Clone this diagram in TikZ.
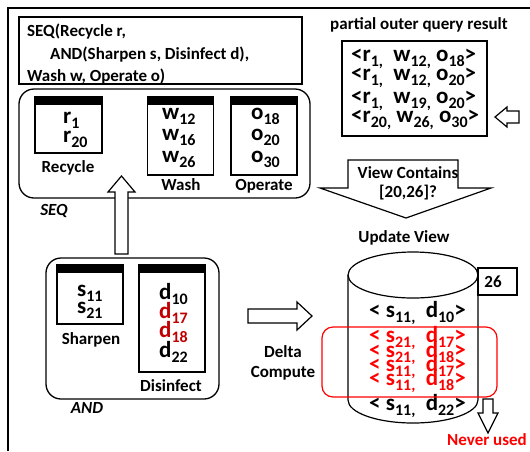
\documentclass[tikz,border=0pt]{standalone}
\usepackage{fontspec}
\setmainfont{Carlito}
\newcommand\lo[1]{\raisebox{-5.5pt}{\fontsize{16}{16}\selectfont #1}}
\definecolor{darkred}{HTML}{C00000}
\definecolor{brightred}{HTML}{FF0000}
\tikzset{
  txt/.style={inner sep=0pt, font=\fontsize{17}{20}\selectfont\bfseries},
  big/.style={inner sep=0pt, font=\fontsize{23}{26}\selectfont\bfseries},
  boxline/.style={draw=black, line width=1.3pt},
  blockarrow/.style={draw=black, line width=1.2pt, fill=white, line join=miter},
  relation/.style={boxline, fill=white,
    path picture={\fill[black] (path picture bounding box.north west) rectangle ([yshift=-8pt]path picture bounding box.north east);}},
}
\begin{document}
\begin{tikzpicture}[x=1pt, y=-1pt]
\useasboundingbox (0,0) rectangle (530,451);

% outer frame (top and left edges)
\draw[line width=1.2pt] (8,451) -- (8,8) -- (530,8);

% query text box
\node[boxline, minimum width=283pt, minimum height=67pt] (query) at (160.5,50.5) {};
\node[txt, anchor=base west] (q1) at (27,36) {SEQ(Recycle r,};
\node[txt, anchor=base west] (q2) at (50,59) {AND(Sharpen s, Disinfect d),};
\node[txt, anchor=base west] (q3) at (27,81) {Wash w, Operate o)};

% SEQ operator box
\node[boxline, rounded corners=15pt, minimum width=291pt, minimum height=109pt] (seq) at (164.5,143.5) {};
\node[txt, font=\fontsize{17}{20}\selectfont\bfseries\itshape, anchor=base] (seqlab) at (54,215) {SEQ};

% Recycle relation
\node[relation, minimum width=67pt, minimum height=56pt] (recycle) at (68.5,125) {};
\node[big, anchor=base west] (r1) at (63,123) {r\lo{1}};
\node[big, anchor=base west] (r20) at (63,142) {r\lo{20}};
\node[txt, anchor=base] (recyclelab) at (68,172) {Recycle};

% Wash relation
\node[relation, minimum width=66pt, minimum height=78pt] (wash) at (180.5,136) {};
\node[big, anchor=base west] (w12) at (162,119) {w\lo{12}};
\node[big, anchor=base west] (w16) at (162,140) {w\lo{16}};
\node[big, anchor=base west] (w26) at (162,162) {w\lo{26}};
\node[txt, anchor=base] (washlab) at (181,190) {Wash};

% Operate relation
\node[relation, minimum width=66pt, minimum height=78pt] (operate) at (264,136) {};
\node[big, anchor=base west] (o18) at (251,119) {o\lo{18}};
\node[big, anchor=base west] (o20) at (251,140) {o\lo{20}};
\node[big, anchor=base west] (o30) at (251,162) {o\lo{30}};
\node[txt, anchor=base] (operatelab) at (264,190) {Operate};

% AND operator box
\node[boxline, rounded corners=15pt, minimum width=173pt, minimum height=141pt] (and) at (132.5,328.5) {};
\node[txt, font=\fontsize{17}{20}\selectfont\bfseries\itshape, anchor=base] (andlab) at (87,413) {AND};

% Sharpen relation
\node[relation, minimum width=66pt, minimum height=59pt] (sharpen) at (90,294.5) {};
\node[big, anchor=base west] (s11) at (77,296) {s\lo{11}};
\node[big, anchor=base west] (s21) at (77,313) {s\lo{21}};
\node[txt, anchor=base] (sharpenlab) at (91,344) {Sharpen};

% Disinfect relation
\node[relation, minimum width=66pt, minimum height=107pt] (disinfect) at (172,318.5) {};
\node[big, anchor=base west] (d10) at (159,299) {d\lo{10}};
\node[big, anchor=base west, text=darkred] (d17) at (159,318) {d\lo{17}};
\node[big, anchor=base west, text=darkred] (d18) at (159,337) {d\lo{18}};
\node[big, anchor=base west] (d22) at (159,357) {d\lo{22}};
\node[txt, anchor=base] (disinfectlab) at (171,391) {Disinfect};

% AND result flows up into SEQ
\draw[blockarrow] (115,254) -- (115,192) -- (108,192) -- (121.5,176) -- (135,192) -- (128,192) -- (128,254) -- cycle;

% partial outer query result
\node[txt, anchor=base] (partlab) at (419,29) {partial outer query result};
\node[boxline, minimum width=145pt, minimum height=95pt] (partial) at (414.5,88.5) {};
\node[big, anchor=base west] (p1) at (351,61) {<r\lo{1,}\ \ w\lo{12,} o\lo{18}>};
\node[big, anchor=base west] (p2) at (351,80) {<r\lo{1,}\ \ w\lo{12,} o\lo{20}>};
\node[big, anchor=base west] (p3) at (351,103) {<r\lo{1,}\ \ w\lo{19,} o\lo{20}>};
\node[big, anchor=base west] (p4) at (351,122) {<r\lo{20,} w\lo{26,} o\lo{30}>};
\draw[blockarrow] (519,111) -- (507,111) -- (507,107) -- (495,117) -- (507,127) -- (507,123) -- (519,123) -- cycle;

% range check arrow
\draw[blockarrow] (348,160) -- (458,160) -- (458,188) -- (491,188) -- (406,218) -- (320,188) -- (348,188) -- cycle;
\node[txt, anchor=base] (vc1) at (408,178) {View Contains};
\node[txt, anchor=base] (vc2) at (408,197) {[20,26]?};

% delta compute arrow
\draw[blockarrow] (248,309) -- (297,309) -- (297,302) -- (312,316) -- (297,330) -- (297,323) -- (248,323) -- cycle;
\node[txt, anchor=base] (delta1) at (283,357) {Delta};
\node[txt, anchor=base] (delta2) at (283,377) {Compute};

% materialized view cylinder
\node[txt, anchor=base] (uvlab) at (404,242) {Update View};
\draw[line width=1.2pt] (348,275) -- (348,400) arc[start angle=180, end angle=360, x radius=65pt, y radius=23pt] -- (478,275);
\draw[line width=1.2pt] (413,275) ellipse[x radius=65pt, y radius=23pt];
\node[boxline, fill=white, minimum width=39pt, minimum height=27pt] (wm) at (497.5,281.5) {};
\node[txt, anchor=center] (wmtxt) at (493,281.5) {26};

\node[big, anchor=base west] (v1) at (369,317) {< s\lo{11,}\ \ d\lo{10}>};
\node[big, anchor=base west, text=brightred] (v2) at (369,342) {< s\lo{21,}\ \ d\lo{17}>};
\node[big, anchor=base west, text=brightred] (v3) at (369,357) {< s\lo{21,}\ \ d\lo{18}>};
\node[big, anchor=base west, text=brightred] (v4) at (369,371) {< s\lo{11,}\ \ d\lo{17}>};
\node[big, anchor=base west, text=brightred] (v5) at (369,385) {< s\lo{11,}\ \ d\lo{18}>};
\node[big, anchor=base west] (v6) at (369,410) {< s\lo{11,}\ \ d\lo{22}>};

\node[draw=brightred, line width=1.2pt, rounded corners=11pt, minimum width=175pt, minimum height=70pt, inner sep=0pt] (unused) at (409.5,362) {};

% unused tuples
\draw[blockarrow] (483,399) -- (493,399) -- (493,413) -- (498,413) -- (488,433) -- (478,413) -- (483,413) -- cycle;
\node[txt, anchor=base, text=brightred] (never) at (487,445) {Never used};
\end{tikzpicture}
\end{document}
